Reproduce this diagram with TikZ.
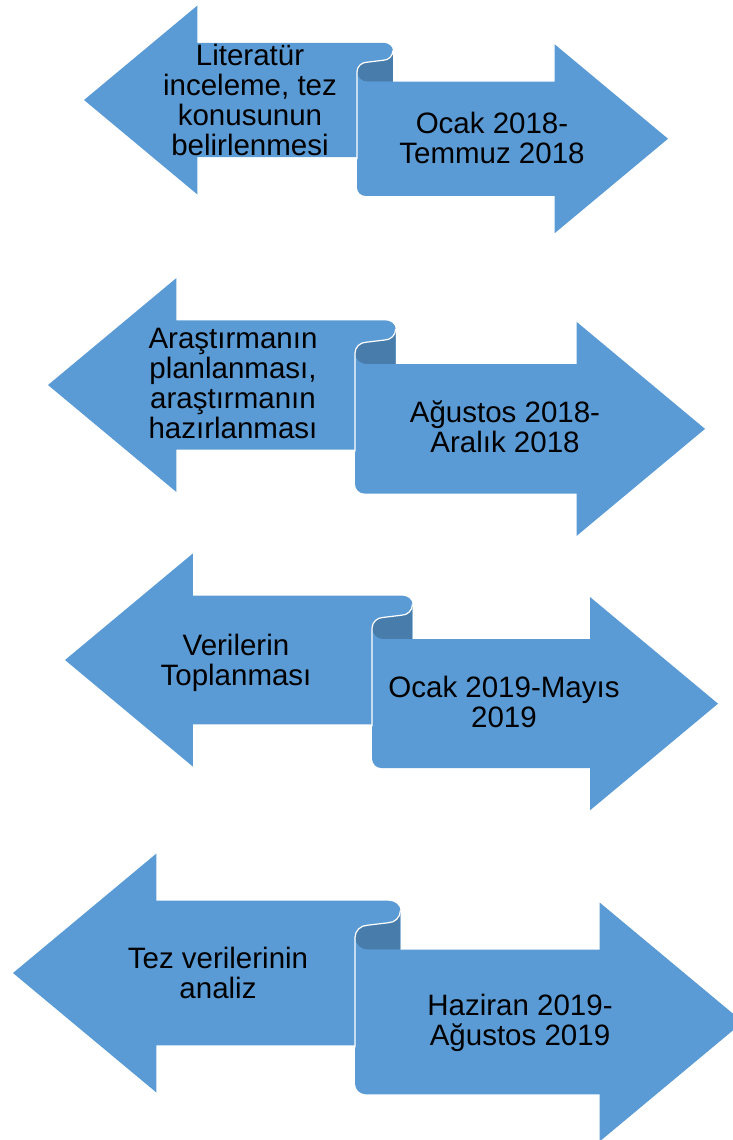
\documentclass[tikz,border=0pt]{standalone}
\usepackage{fontspec}
\setmainfont{Liberation Sans}
\definecolor{ribbonblue}{HTML}{5B9BD5}
\definecolor{folddark}{HTML}{487CAB}
\tikzset{
    ribbon/.style={fill=ribbonblue},
    fold/.style={fill=folddark},
    foldline/.style={draw=white, line width=1.2pt},
    steptext/.style={align=center, font=\fontsize{29.5}{30}\selectfont, text depth=0pt, inner sep=0pt}
}
% #1 left tip x, #2 fold x, #3 right tip x, #4 left centre y, #5 half head height
\newcommand{\lrribbon}[5]{%
    \begin{scope}
        \pgfmathsetmacro\rHead{1.2*#5}
        \pgfmathsetmacro\rShaft{0.605*#5}
        \pgfmathsetmacro\rDrop{0.41*#5}
        \pgfmathsetmacro\rFold{0.38*#5}
        \pgfmathsetmacro\xa{#1+\rHead}
        \pgfmathsetmacro\xb{#3-\rHead}
        \pgfmathsetmacro\xr{#2+\rFold}
        \pgfmathsetmacro\ya{#4-\rShaft}
        \pgfmathsetmacro\yb{#4+\rShaft}
        \pgfmathsetmacro\yc{#4+\rDrop}
        \pgfmathsetmacro\yd{\yc-\rShaft}
        \pgfmathsetmacro\ye{\yc+\rShaft}
        \pgfmathsetmacro\cx{\xr-0.27*\rFold}
        \pgfmathsetmacro\cy{\ya+0.2*\rDrop}
        \pgfmathsetmacro\cz{\ya+0.45*\rDrop}
        \pgfmathsetmacro\kx{#2+0.28*\rFold}
        \pgfmathsetmacro\ky{\ya+0.75*\rDrop}
        \pgfmathsetmacro\kt{\ya+0.5*\rDrop}
        \pgfmathsetmacro\rc{0.09*#5}
        \fill[ribbon] (#1,#4) -- (\xa,{#4-#5}) -- (\xa,\ya) -- (\cx,\ya)
            .. controls ({\cx+0.55*(\xr-\cx)},\ya) and (\xr,{\cy-0.55*(\cy-\ya)}) .. (\xr,\cy)
            -- (\xr,\yb) -- (\xa,\yb) -- (\xa,{#4+#5}) -- cycle;
        \fill[fold] (\xr,\cy)
            .. controls (\xr,{\cy+0.55*(\cz-\cy)}) and ({\cx+0.55*(\xr-\cx)},\cz) .. (\cx,\cz)
            -- (\kx,\kt)
            .. controls ({\kx-0.55*(\kx-#2)},\kt) and (#2,{\ky-0.55*(\ky-\kt)}) .. (#2,\ky)
            .. controls (#2,{\ky+0.55*(\yd-\ky)}) and ({\kx-0.55*(\kx-#2)},\yd) .. (\kx,\yd)
            -- (\xr,\yd) -- cycle;
        \fill[ribbon] (#2,\ky) -- (#2,{\ye-\rc})
            .. controls (#2,{\ye-0.45*\rc}) and ({#2+0.45*\rc},\ye) .. ({#2+\rc},\ye)
            -- (\xb,\ye) -- (\xb,{\yc+#5}) -- (#3,\yc) -- (\xb,{\yc-#5}) -- (\xb,\yd) -- (\kx,\yd)
            .. controls ({\kx-0.55*(\kx-#2)},\yd) and (#2,{\ky+0.55*(\yd-\ky)}) .. (#2,\ky) -- cycle;
        \draw[foldline] (\xr,\cy)
            .. controls (\xr,{\cy+0.55*(\cz-\cy)}) and ({\cx+0.55*(\xr-\cx)},\cz) .. (\cx,\cz)
            -- (\kx,\kt)
            .. controls ({\kx-0.55*(\kx-#2)},\kt) and (#2,{\ky-0.55*(\ky-\kt)}) .. (#2,\ky)
            -- (#2,{\yb+2});
    \end{scope}}

\begin{document}
\begin{tikzpicture}[x=1pt, y=-1pt]
    \useasboundingbox (0,0) rectangle (733,1140);
    \clip (0,0) rectangle (733,1140);

    \lrribbon{84}{357}{668}{100}{94.5}
    \lrribbon{48}{355}{705}{385}{107}
    \lrribbon{65}{372}{718}{660}{106.5}
    \lrribbon{13}{355}{743}{973}{119.5}

    \node[steptext] (lit) at (250,100) {Literatür\\inceleme, tez\\konusunun\\belirlenmesi};
    \node[steptext] (litdate) at (492,137.5) {Ocak 2018-\\Temmuz 2018};
    \node[steptext] (plan) at (233,383) {Araştırmanın\\planlanması,\\araştırmanın\\hazırlanması};
    \node[steptext] (plandate) at (505,426.5) {Ağustos 2018-\\Aralık 2018};
    \node[steptext] (collect) at (236,660) {Verilerin\\Toplanması};
    \node[steptext] (collectdate) at (504,702) {Ocak 2019-Mayıs\\2019};
    \node[steptext] (analysis) at (218,972.5) {Tez verilerinin\\analiz};
    \node[steptext] (analysisdate) at (520,1020) {Haziran 2019-\\Ağustos 2019};
\end{tikzpicture}
\end{document}
